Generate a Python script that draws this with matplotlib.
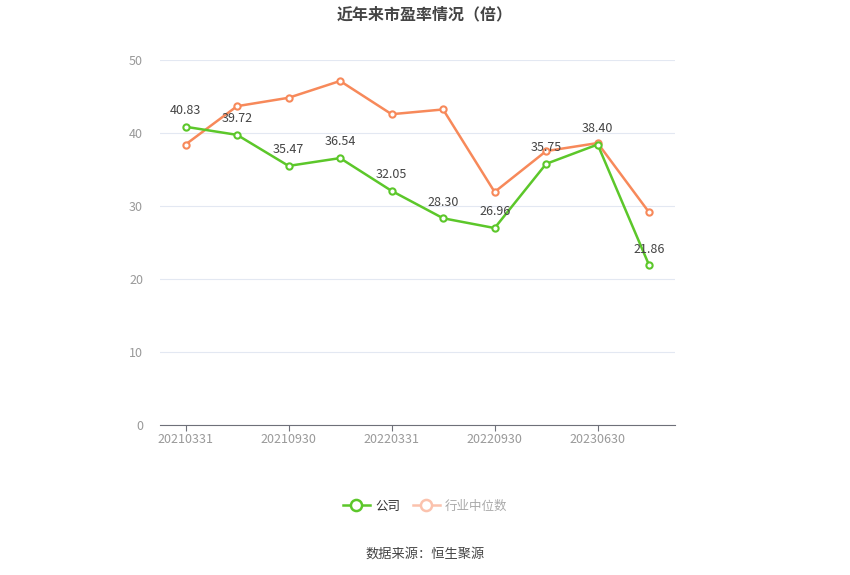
import numpy as np
import matplotlib.pyplot as plt
from matplotlib.lines import Line2D

plt.rcParams['font.family'] = ['Noto Sans CJK SC', 'DejaVu Sans']

# quarterly report dates (only every other one is labelled)
dates = ['20210331', '20210630', '20210930', '20211231', '20220331',
         '20220630', '20220930', '20230331', '20230630', '20230930']
company = [40.83, 39.72, 35.47, 36.54, 32.05, 28.30, 26.96, 35.75, 38.40, 21.86]
industry = [38.4, 43.65, 44.8, 47.1, 42.55, 43.2, 31.9, 37.5, 38.6, 29.1]

green = '#5cc72a'
orange = '#f7895a'

fig = plt.figure(figsize=(8.5, 5.75), dpi=100)
ax = fig.add_axes([0.188, 0.261, 0.606, 0.635])

x = np.arange(len(dates))
ax.plot(x, industry, '-o', color=orange, lw=1.8, ms=4.5, mfc='white', mew=1.5, zorder=3)
ax.plot(x, company, '-o', color=green, lw=1.8, ms=4.5, mfc='white', mew=1.5, zorder=4)

for xi, v in zip(x, company):
    ax.annotate(f'{v:.2f}', (xi, v), xytext=(0, 7), textcoords='offset points',
                ha='center', va='bottom', fontsize=9, color='#444444', zorder=5)

ax.set_xlim(-0.5, len(dates) - 0.5)
ax.set_ylim(0, 50)
ax.set_yticks(range(0, 51, 10))
ax.set_xticks(x[::2])
ax.set_xticklabels(dates[::2])
ax.grid(axis='y', color='#e3e8f2', lw=0.8)
ax.set_axisbelow(True)
for s in ['top', 'right', 'left']:
    ax.spines[s].set_visible(False)
ax.spines['bottom'].set_color('#6e7079')
ax.tick_params(axis='y', length=0, colors='#999999', labelsize=9, pad=12)
ax.tick_params(axis='x', length=4, color='#6e7079', colors='#999999', labelsize=9, pad=2)

fig.text(0.5, 0.975, '近年来市盈率情况（倍）', ha='center', va='center',
         fontsize=11.5, fontweight='bold', color='#444444')

handles = [Line2D([], [], color=green, lw=1.8, marker='o', ms=8, mfc='white', mew=1.8),
           Line2D([], [], color='#fbc2ad', lw=1.8, marker='o', ms=8, mfc='white', mew=1.8)]
leg = fig.legend(handles, ['公司', '行业中位数'], loc='center', bbox_to_anchor=(0.5, 0.12),
                 ncol=2, frameon=False, fontsize=9, handlelength=2.2, columnspacing=1.0,
                 handletextpad=0.4)
leg.get_texts()[0].set_color('#333333')
leg.get_texts()[1].set_color('#aaaaaa')

fig.text(0.5, 0.036, '数据来源：恒生聚源', ha='center', va='center', fontsize=9.5, color='#444444')

fig.savefig('out.png', dpi=100)
